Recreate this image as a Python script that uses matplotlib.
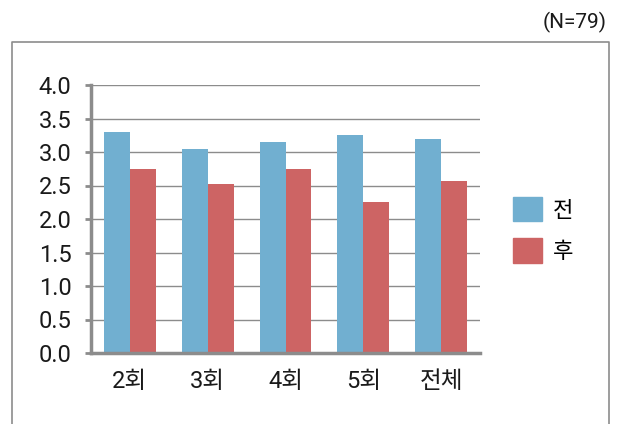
import matplotlib
matplotlib.use("Agg")
import matplotlib.pyplot as plt
from matplotlib.lines import Line2D
from matplotlib.patches import Patch
import numpy as np

plt.rcParams['font.family'] = ['Roboto', 'Noto Sans CJK KR', 'DejaVu Sans']

categories = ['2회', '3회', '4회', '5회', '전체']
before = [3.30, 3.05, 3.15, 3.26, 3.20]
after = [2.75, 2.52, 2.75, 2.25, 2.57]
series_names = ['전', '후']
yticks = [0.0, 0.5, 1.0, 1.5, 2.0, 2.5, 3.0, 3.5, 4.0]
note = '(N=79)'

blue = '#71AFD0'
red = '#CD6464'
gray = '#8C8C8C'

W, H = 618, 424
fig = plt.figure(figsize=(W / 100, H / 100), dpi=100)
ax = fig.add_axes([91 / W, 1 - 353 / H, (480 - 91) / W, (353 - 85) / H])

x = np.arange(len(categories))
bw = 1 / 3
ax.bar(x - bw / 2, before, width=bw, color=blue, label=series_names[0], zorder=3)
ax.bar(x + bw / 2, after, width=bw, color=red, label=series_names[1], zorder=3)

ax.set_xlim(-0.5, len(categories) - 0.5)
ax.set_ylim(0, 4)
ax.set_yticks(yticks)
ax.set_yticklabels([f'{v:.1f}' for v in yticks])
ax.set_xticks(x)
ax.set_xticklabels(categories)

ax.grid(axis='y', color=gray, linewidth=1.0, zorder=0)
ax.set_axisbelow(True)
for s in ['top', 'right']:
    ax.spines[s].set_visible(False)
for s in ['left', 'bottom']:
    ax.spines[s].set_color(gray)
    ax.spines[s].set_linewidth(2.5)
    ax.spines[s].set_zorder(4)

ax.tick_params(axis='y', length=4, width=2, color=gray, pad=10, labelsize=17, labelcolor='#1a1a1a')
ax.tick_params(axis='x', length=0, pad=12, labelsize=17, labelcolor='#1a1a1a')

handles = [Patch(color=blue), Patch(color=red)]
leg = fig.legend(handles, series_names, loc='center left',
                 bbox_to_anchor=(493 / W, 1 - 230 / H), frameon=False,
                 fontsize=16, handlelength=1.3, handleheight=1.3,
                 handletextpad=0.5, labelspacing=0.75)

# outer frame (left, top, right; bottom is cut off)
fx0, fx1, fy = 11.5 / W, 609 / W, 1 - 41.5 / H
fig.add_artist(Line2D([fx0, fx0, fx1, fx1], [0, fy, fy, 0], color=gray, linewidth=1.2,
                      transform=fig.transFigure))

fig.text(607 / W, 1 - 22 / H, note, ha='right', va='center', fontsize=15, color='#1a1a1a')

fig.savefig('out.png', dpi=100)
